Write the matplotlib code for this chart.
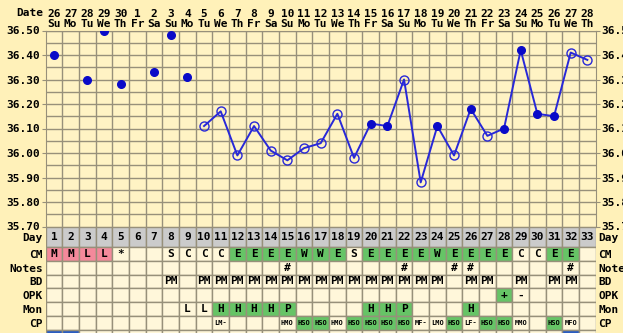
import numpy as np
import matplotlib
matplotlib.use("Agg")
from matplotlib import pyplot as plt

# chart data
dates = [26, 27, 28, 29, 30] + list(range(1, 29))
weekdays = ['Su', 'Mo', 'Tu', 'We', 'Th', 'Fr', 'Sa'] * 5
temps = [36.40, np.nan, 36.30, 36.50, 36.28, np.nan, 36.33, 36.48, 36.31,
         36.11, 36.17, 35.99, 36.11, 36.01, 35.97, 36.02, 36.04, 36.16, 35.98,
         36.12, 36.11, 36.30, 35.88, 36.11, 35.99, 36.18, 36.07, 36.10, 36.42,
         36.16, 36.15, 36.41, 36.38]
# 1 = filled dot, 0 = open circle
filled = [1] * 9 + [0] * 10 + [1, 1, 0, 0, 1, 0, 1, 0, 1, 1, 1, 1, 0, 0]
line_start = 10

cm = ['M', 'M', 'L', 'L', '*', '', '', 'S', 'C', 'C', 'C', 'E', 'E', 'E', 'E', 'W',
      'W', 'E', 'S', 'E', 'E', 'E', 'E', 'W', 'E', 'E', 'E', 'E', 'C', 'C', 'E', 'E', '']
notes = {15: '#', 22: '#', 25: '#', 26: '#', 32: '#'}
bd_days = [8, 10, 11, 12, 13, 14, 15, 16, 17, 18, 19, 20, 21, 22, 23, 24, 26, 27, 29, 31, 32]
opk = {28: '+', 29: '-'}
mon = {9: 'L', 10: 'L', 11: 'H', 12: 'H', 13: 'H', 14: 'H', 15: 'P',
       20: 'H', 21: 'H', 22: 'P', 26: 'H'}
cp = {11: 'LM-', 15: 'HMO', 16: 'HSO', 17: 'HSO', 18: 'HMO', 19: 'HSO', 20: 'HSO',
      21: 'HSO', 22: 'HSO', 23: 'MF-', 24: 'LMO', 25: 'HSO', 26: 'LF-', 27: 'HSO',
      28: 'HSO', 29: 'MMO', 31: 'HSO', 32: 'MFO'}
extra_days = [1, 2, 32]
row_names = ['Day', 'CM', 'Notes', 'BD', 'OPK', 'Mon', 'CP']

BG = '#FFF1B9'
PLOT_BG = '#FFF3C4'
CELL = '#FFF7DA'
GRID = '#97907A'
PINK = '#F4899B'
GREEN = '#66C466'
GREY = '#CBCBCB'
BLUE = '#2828D8'
DOT = '#0A0AC8'
FONT = 'DejaVu Sans Mono'

W, H = 623, 333
days = np.arange(1, 34)

fig = plt.figure(figsize=(W / 100, H / 100), dpi=100, facecolor=BG)

# temperature chart
ax = fig.add_axes([45.7 / W, (H - 226.5) / H, 550 / W, 196 / H])
ax.set_facecolor(PLOT_BG)
ax.set_xlim(0.5, 33.5)
ax.set_ylim(35.70, 36.50)
ax.set_xticks(days)
ax.set_xticklabels(['%d\n%s' % (d, w) for d, w in zip(dates, weekdays)],
                   fontfamily=FONT, fontweight='bold', fontsize=8, linespacing=1.05)
ax.set_xticks(np.arange(1.5, 33.5, 1), minor=True)
yt = np.round(np.arange(35.70, 36.501, 0.1), 2)
ax.set_yticks(yt)
ax.set_yticklabels(['%.2f' % v for v in yt], fontfamily=FONT, fontweight='bold', fontsize=8)
ax.set_yticks(np.round(np.arange(35.75, 36.5, 0.1), 2), minor=True)
ax.tick_params(axis='x', which='both', length=0, top=True, bottom=False,
               labeltop=True, labelbottom=False, pad=1)
ax.tick_params(axis='y', which='major', length=3, color=GRID, left=True, right=True,
               labelleft=True, labelright=True, pad=1)
ax.tick_params(axis='y', which='minor', length=0)
ax.grid(which='minor', axis='x', color=GRID, linewidth=1)
ax.grid(which='both', axis='y', color=GRID, linewidth=1)
ax.set_axisbelow(True)
for s in ax.spines.values():
    s.set_color(GRID)

t = np.array(temps)
f = np.array(filled, dtype=bool)
seg = days >= line_start
ax.plot(days[seg], t[seg], color=BLUE, linewidth=1.4, zorder=3)
ax.plot(days[f], t[f], 'o', color=DOT, markersize=5.5, zorder=4)
ax.plot(days[~f], t[~f], 'o', markerfacecolor='none', markeredgecolor=BLUE,
        markeredgewidth=1.0, markersize=6.5, zorder=4)
fig.text(43.5 / W, 1 - 13 / H, 'Date', ha='right', va='center', fontfamily=FONT,
         fontweight='bold', fontsize=8)

# table rows
unit = 13.9
day_h = 20.2 / unit
tops = [0, day_h] + [day_h + i for i in range(1, 7)]
ax2 = fig.add_axes([45.7 / W, (H - 344) / H, 550 / W, 117.5 / H])
ax2.set_xlim(0.5, 33.5)
ax2.set_ylim(day_h + 7, 0)
ax2.set_facecolor(CELL)
for s in ax2.spines.values():
    s.set_visible(False)


def row(r, colors, labels, size=8):
    top = tops[r]
    h = day_h if r == 0 else 1
    ax2.bar(days, h, bottom=top, width=1, color=colors, edgecolor=GRID, linewidth=1)
    for d, lab in zip(days, labels):
        if lab:
            ax2.text(d, top + h / 2, lab, ha='center', va='center', fontfamily=FONT,
                     fontweight='bold', fontsize=size)


row(0, [GREY] * 33, [str(d) for d in days])
row(1, [PINK if c in 'ML' and c else GREEN if c in ('E', 'W') else CELL for c in cm], cm)
row(2, [CELL] * 33, [notes.get(d, '') for d in days])
row(3, [CELL] * 33, ['PM' if d in bd_days else '' for d in days])
row(4, [GREEN if opk.get(d) == '+' else CELL for d in days], [opk.get(d, '') for d in days])
row(5, [GREEN if mon.get(d) in ('H', 'P') else CELL for d in days], [mon.get(d, '') for d in days])
row(6, [GREEN if cp.get(d) == 'HSO' else CELL for d in days], [cp.get(d, '') for d in days], size=5)
row(7, ['#2A5CC0' if d in extra_days else CELL for d in days], [''] * 33)

centers = [day_h / 2] + [day_h + i + 0.5 for i in range(6)]
ax2.set_yticks(centers)
ax2.set_yticklabels(row_names, fontfamily=FONT, fontweight='bold', fontsize=8)
ax2.set_xticks([])
ax2.tick_params(axis='y', length=0, left=True, right=True, labelleft=True,
                labelright=True, pad=2)

fig.savefig('out.png', dpi=100, facecolor=BG)
